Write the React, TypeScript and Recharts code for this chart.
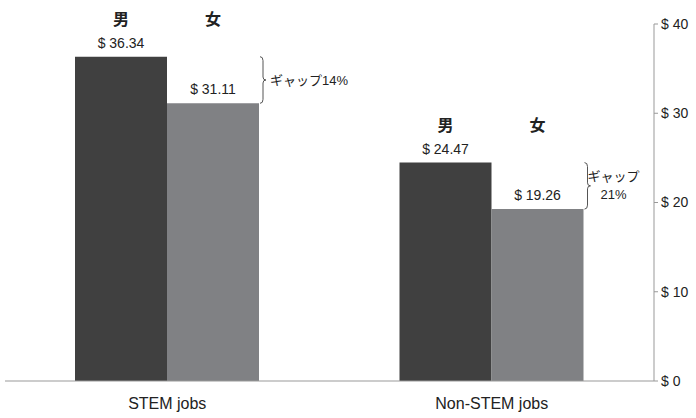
import React from 'react';
import { BarChart, Bar, XAxis, YAxis, LabelList } from 'recharts';

const categories = ['STEM jobs', 'Non-STEM jobs'];
const menWages = [36.34, 24.47];
const womenWages = [31.11, 19.26];
const gapLines = [['ギャップ14%'], ['ギャップ', '21%']];
const yTicks = [0, 10, 20, 30, 40];
const sexLabels = ['男', '女'];

const data = categories.map((c, i) => ({ name: c, men: menWages[i], women: womenWages[i] }));

const FONT = "'Liberation Sans', Arial, 'Noto Sans CJK JP', sans-serif";
const MALE = '#404040';
const FEMALE = '#808184';

const fmt = (v: number) => `$ ${v.toFixed(2)}`;

const MaleLabel = (props: any) => {
  const { x, y, width, value } = props;
  const cx = x + width / 2;
  return (
    <g>
      <text x={cx} y={y - 14} textAnchor="middle" dominantBaseline="central" fontSize={14} fill="#222" fontFamily={FONT}>
        {fmt(value)}
      </text>
      <text x={cx} y={y - 37} textAnchor="middle" dominantBaseline="central" fontSize={16} fontWeight="bold" fill="#222" fontFamily={FONT}>
        {sexLabels[0]}
      </text>
      <text x={cx + width} y={y - 37} textAnchor="middle" dominantBaseline="central" fontSize={16} fontWeight="bold" fill="#222" fontFamily={FONT}>
        {sexLabels[1]}
      </text>
    </g>
  );
};

const FemaleLabel = (props: any) => {
  const { x, y, width, height, value, index } = props;
  const cx = x + width / 2;
  const base = y + height;
  const perUnit = height / value;
  const maleTop = base - menWages[index] * perUnit;
  const bx = x + width + 1;
  const top = maleTop;
  const bot = y;
  const mid = (top + bot) / 2;
  const d = `M ${bx} ${top} Q ${bx + 3} ${top} ${bx + 3} ${top + 4} L ${bx + 3} ${mid - 3} Q ${bx + 3} ${mid} ${bx + 6} ${mid} Q ${bx + 3} ${mid} ${bx + 3} ${mid + 3} L ${bx + 3} ${bot - 4} Q ${bx + 3} ${bot} ${bx} ${bot}`;
  const lines = gapLines[index];
  return (
    <g>
      <text x={cx} y={y - 14} textAnchor="middle" dominantBaseline="central" fontSize={14} fill="#222" fontFamily={FONT}>
        {fmt(value)}
      </text>
      <path d={d} fill="none" stroke="#555" strokeWidth={1} />
      {lines.length === 1 ? (
        <text x={bx + 10} y={mid} textAnchor="start" dominantBaseline="central" fontSize={13} fill="#222" fontFamily={FONT}>
          {lines[0]}
        </text>
      ) : (
        lines.map((t: string, i: number) => (
          <text key={i} x={bx + 29} y={mid - 9 + i * 18} textAnchor="middle" dominantBaseline="central" fontSize={13} fill="#222" fontFamily={FONT}>
            {t}
          </text>
        ))
      )}
    </g>
  );
};

export default function App() {
  return (
    <div style={{ position: 'absolute', left: 0, top: 0, background: '#fff' }}>
      <BarChart width={696} height={418} data={data} margin={{ top: 24, right: 0, left: 5, bottom: 0 }} barGap={0}>
        <XAxis
          dataKey="name"
          height={37}
          tickLine={false}
          axisLine={{ stroke: '#999' }}
          tickSize={0}
          tickMargin={17}
          tick={{ fontSize: 16, fill: '#222', fontFamily: FONT }}
          interval={0}
        />
        <YAxis
          orientation="right"
          width={42}
          domain={[0, 40]}
          ticks={yTicks}
          tickFormatter={(v: number) => `$ ${v}`}
          axisLine={{ stroke: '#999' }}
          tickLine={{ stroke: '#999' }}
          tickSize={4}
          tickMargin={3}
          tick={{ fontSize: 14, fill: '#222', fontFamily: FONT, textAnchor: 'start' }}
        />
        <Bar dataKey="men" fill={MALE} barSize={92} isAnimationActive={false}>
          <LabelList dataKey="men" content={MaleLabel} />
        </Bar>
        <Bar dataKey="women" fill={FEMALE} barSize={92} isAnimationActive={false}>
          <LabelList dataKey="women" content={FemaleLabel} />
        </Bar>
      </BarChart>
    </div>
  );
}
